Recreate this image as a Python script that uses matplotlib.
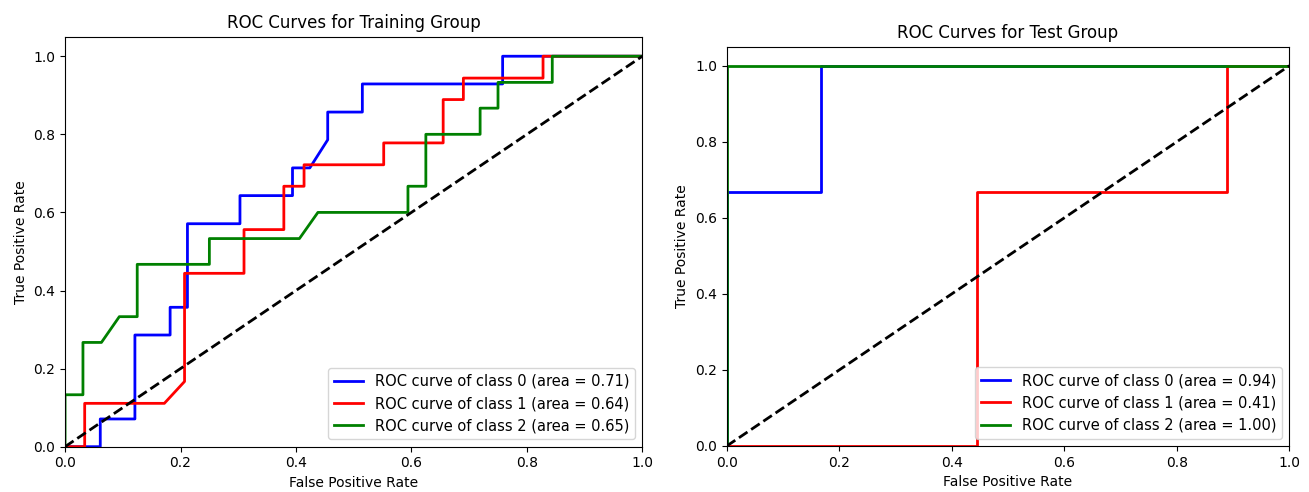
"""ROC curves per class for the training and test groups."""

from __future__ import annotations

import matplotlib

matplotlib.use("Agg")
import matplotlib.pyplot as plt

# training group (fpr / tpr pairs per class)
TRAIN_FPR_0 = [0.0, 0.061, 0.061, 0.121, 0.121, 0.182, 0.182, 0.212, 0.212, 0.303, 0.303,
               0.394, 0.394, 0.424, 0.455, 0.455, 0.515, 0.515, 0.758, 0.758, 1.0]
TRAIN_TPR_0 = [0.0, 0.0, 0.071, 0.071, 0.286, 0.286, 0.357, 0.357, 0.571, 0.571, 0.643,
               0.643, 0.714, 0.714, 0.786, 0.857, 0.857, 0.929, 0.929, 1.0, 1.0]
TRAIN_FPR_1 = [0.0, 0.034, 0.034, 0.172, 0.207, 0.207, 0.310, 0.310, 0.379, 0.379, 0.414,
               0.414, 0.552, 0.552, 0.655, 0.655, 0.690, 0.690, 0.828, 0.828, 1.0]
TRAIN_TPR_1 = [0.0, 0.0, 0.111, 0.111, 0.167, 0.444, 0.444, 0.556, 0.556, 0.667, 0.667,
               0.722, 0.722, 0.778, 0.778, 0.889, 0.889, 0.944, 0.944, 1.0, 1.0]
TRAIN_FPR_2 = [0.0, 0.0, 0.031, 0.031, 0.063, 0.094, 0.125, 0.125, 0.25, 0.25, 0.406, 0.438,
               0.594, 0.594, 0.625, 0.625, 0.719, 0.719, 0.75, 0.75, 0.844, 0.844, 1.0]
TRAIN_TPR_2 = [0.0, 0.133, 0.133, 0.267, 0.267, 0.333, 0.333, 0.467, 0.467, 0.533, 0.533, 0.6,
               0.6, 0.667, 0.667, 0.8, 0.8, 0.867, 0.867, 0.933, 0.933, 1.0, 1.0]
TRAIN_AUC = [0.71, 0.64, 0.65]

# test group
TEST_FPR_0 = [0.0, 0.0, 0.167, 0.167, 1.0]
TEST_TPR_0 = [0.0, 0.667, 0.667, 1.0, 1.0]
TEST_FPR_1 = [0.0, 0.444, 0.444, 0.889, 0.889, 1.0]
TEST_TPR_1 = [0.0, 0.0, 0.667, 0.667, 1.0, 1.0]
TEST_FPR_2 = [0.0, 0.0, 1.0]
TEST_TPR_2 = [0.0, 1.0, 1.0]
TEST_AUC = [0.94, 0.41, 1.00]

COLORS = ["blue", "red", "green"]


def _plot_roc(ax, curves, aucs, title):
    for i, (fpr, tpr) in enumerate(curves):
        ax.plot(fpr, tpr, color=COLORS[i], lw=2,
                label=f"ROC curve of class {i} (area = {aucs[i]:0.2f})")
    ax.plot([0, 1], [0, 1], "k--", lw=2)
    ax.set_xlim([0.0, 1.0])
    ax.set_ylim([0.0, 1.05])
    ax.set_xlabel("False Positive Rate")
    ax.set_ylabel("True Positive Rate")
    ax.set_title(title)
    ax.legend(loc="lower right", fontsize=10.5)


def main() -> None:
    fig = plt.figure(figsize=(13.09, 4.92), dpi=100)
    ax_train = fig.add_axes([0.0497, 0.0921, 0.4410, 0.8333])
    ax_test = fig.add_axes([0.5552, 0.0935, 0.4298, 0.8116])

    _plot_roc(
        ax_train,
        [(TRAIN_FPR_0, TRAIN_TPR_0), (TRAIN_FPR_1, TRAIN_TPR_1), (TRAIN_FPR_2, TRAIN_TPR_2)],
        TRAIN_AUC,
        "ROC Curves for Training Group",
    )
    _plot_roc(
        ax_test,
        [(TEST_FPR_0, TEST_TPR_0), (TEST_FPR_1, TEST_TPR_1), (TEST_FPR_2, TEST_TPR_2)],
        TEST_AUC,
        "ROC Curves for Test Group",
    )

    fig.savefig("out.png", dpi=100)
    plt.close(fig)


if __name__ == "__main__":
    main()
